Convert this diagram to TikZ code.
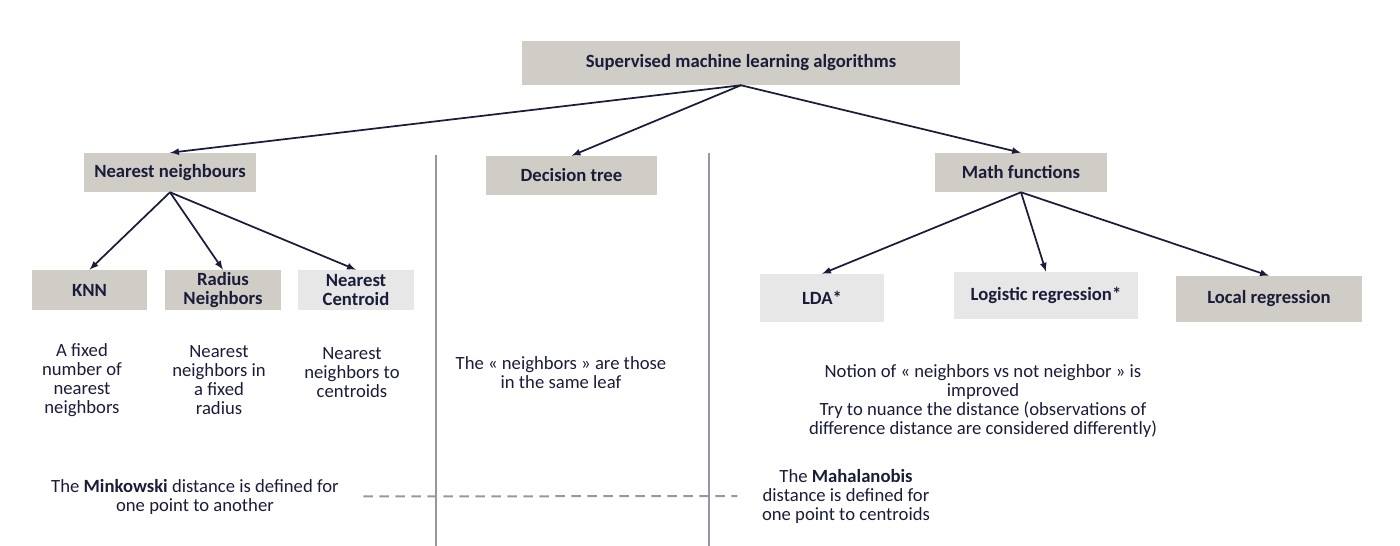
\documentclass[tikz,border=0pt]{standalone}
\usepackage{fontspec}
\setmainfont{Carlito}
\usepackage{xcolor}
\usetikzlibrary{positioning}
\usetikzlibrary{shapes,arrows}
\definecolor{boxdark}{RGB}{208,204,198}
\definecolor{boxlight}{RGB}{231,231,231}
\definecolor{ink}{RGB}{27,28,58}
\definecolor{sepline}{RGB}{150,150,165}
\tikzset{
	block/.style={
		rectangle,
		align=center,
		fill=boxdark,
		text=ink,
		inner sep=0pt,
		font=\fontsize{14}{14.25}\selectfont\bfseries
	},
	lightblock/.style={
		block,
		fill=boxlight
	},
	note/.style={
		align=center,
		text=ink,
		font=\fontsize{14}{14.25}\selectfont
	},
	link/.style={
		-latex,
		draw=ink,
		line width=1.3pt
	}
}
\begin{document}
\begin{tikzpicture}[x=0.75pt,y=-0.75pt]
		\useasboundingbox (0,0) rectangle (1400,546);
		\draw node[block, minimum width=328.5pt, minimum height=33pt](Main) at (741,63){Supervised machine learning algorithms};
		\draw node[block, minimum width=129pt, minimum height=29.25pt](Nearest) at (170,172.5){Nearest neighbours};
		\draw node[block, minimum width=128.25pt, minimum height=29.25pt](Tree) at (571.5,175.5){Decision tree};
		\draw node[block, minimum width=129pt, minimum height=29.25pt](Math) at (1021,172.5){Math functions};
		
		\draw node[block, minimum width=86.25pt, minimum height=30pt](KNN) at (89.5,290){KNN};
		\draw node[block, minimum width=87pt, minimum height=30pt](Radius) at (223,290){Radius\\ Neighbors};
		\draw node[lightblock, minimum width=87pt, minimum height=30pt](Centroid) at (356,290){Nearest\\ Centroid};
		\draw node[lightblock, minimum width=93pt, minimum height=36pt](LDA) at (822,298){LDA*};
		\draw node[lightblock, minimum width=138pt, minimum height=35.25pt](Logistic) at (1046,295.5){Logistic regression*};
		\draw node[block, minimum width=139.5pt, minimum height=34.5pt](Local) at (1269,299){Local regression};
		
		\draw node[note](KNNText) at (82,380.5){A fixed\\ number of\\ nearest\\ neighbors};
		\draw node[note](RadiusText) at (219,380.5){Nearest\\ neighbors in\\ a fixed\\ radius};
		\draw node[note](CentroidText) at (352,373){Nearest\\ neighbors to\\ centroids};
		\draw node[note](TreeText) at (561,372.5){The « neighbors » are those\\ in the same leaf};
		\draw node[note](MathText) at (983,401.5){Notion of « neighbors vs not neighbor » is\\ improved\\ Try to nuance the distance (observations of\\ difference distance are considered differently)};
		\draw node[note](Minkowski) at (195,496.5){The \textbf{Minkowski} distance is defined for\\ one point to another};
		\draw node[note](Mahalanobis) at (846,496){The \textbf{Mahalanobis}\\ distance is defined for\\ one point to centroids};
		
		\coordinate (SepLeftTop) at (436,155);
		\coordinate (SepLeftEnd) at (436,546);
		\coordinate (SepRightTop) at (709,153);
		\coordinate (SepRightEnd) at (709,546);
		\draw [sepline, line width=0.8pt] (SepLeftTop) -- (SepLeftEnd);
		\draw [sepline, line width=0.8pt] (SepRightTop) -- (SepRightEnd);
		\draw [sepline, line width=1.5pt, dash pattern=on 7pt off 5pt, shorten <=15pt, shorten >=15pt] (Minkowski.east) -- (Mahalanobis.west);
		
		\draw [link] (Main.south) -- (Nearest.north);
		\draw [link] (Main.south) -- (Tree.north);
		\draw [link] (Main.south) -- (Math.north);
		\draw [link] (Nearest.south) -- (KNN.north);
		\draw [link] (Nearest.south) -- (Radius.north);
		\draw [link] (Nearest.south) -- (Centroid.north);
		\draw [link] (Math.south) -- (LDA.north);
		\draw [link] (Math.south) -- (Logistic.north);
		\draw [link] (Math.south) -- (Local.north);
	\end{tikzpicture}
\end{document}
